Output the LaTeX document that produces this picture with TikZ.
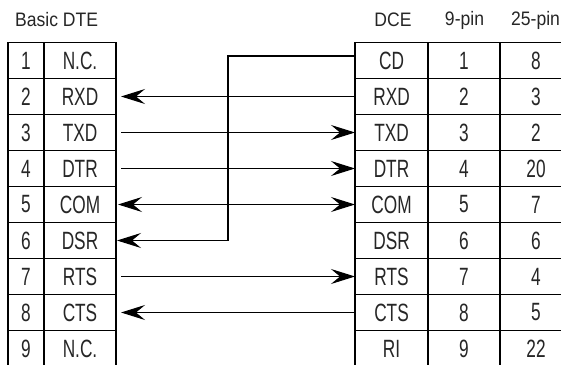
\documentclass[tikz,border=0pt]{standalone}
\usepackage{fontspec}
\setmainfont{Liberation Sans}[FakeStretch=0.69]
\newfontfamily\hdrfont{Liberation Sans}[FakeStretch=0.9]
\usetikzlibrary{arrows.meta}
\begin{document}
\begin{tikzpicture}[x=1pt,y=-1pt,
  cell/.style={minimum height=36pt, inner sep=0pt, outer sep=0pt,
    anchor=north west, font=\fontsize{25}{25}\selectfont, text=black!85},
  grid/.style={line width=1.6pt, draw=black, line cap=rect},
  hdr/.style={inner sep=0pt, font=\hdrfont\fontsize{19.5}{19.5}\selectfont, text=black!85},
  conn/.style={line width=1.1pt, draw=black},
  tip/.tip={Stealth[length=24pt,width=15pt,inset=9pt]}]
\useasboundingbox (0,0) rectangle (561,364);
\clip (0,0) rectangle (561,364);
\coordinate (br) at (561,364);
\node[hdr, anchor=west] (hdte) at (15,20) {Basic DTE};
\node[hdr] (hdce) at (393,20) {DCE};
\node[hdr] (h9) at (464.5,20) {9-pin};
\node[hdr, anchor=west] (h25) at (511,20) {25-pin};
\foreach \i/\n/\a/\b/\c in {1/N.C./CD/1/8, 2/RXD/RXD/2/3, 3/TXD/TXD/3/2, 4/DTR/DTR/4/20,
  5/COM/COM/5/7, 6/DSR/DSR/6/6, 7/RTS/RTS/7/4, 8/CTS/CTS/8/5, 9/N.C./RI/9/22} {
  \pgfmathsetmacro{\yy}{42.5+36*(\i-1)}
  \node[cell, minimum width=36pt] (N\i) at (8,\yy) {\i};
  \node[cell, minimum width=72pt] (L\i) at (44,\yy) {\n};
  \node[cell, minimum width=73pt] (R\i) at (355,\yy) {\a};
  \node[cell, minimum width=72pt] (P\i) at (428,\yy) {\b};
  \node[cell, minimum width=72pt] (Q\i) at (500,\yy) {\c};
}
% table rules
\foreach \i in {1,...,9} {
  \draw[grid] (N\i.north west) -- (L\i.north east);
  \draw[grid] (R\i.north west) -- (R\i.north west -| br);
}
\foreach \c in {N1.north west, N1.north east, L1.north east, R1.north west, P1.north west, Q1.north west}
  \draw[grid] (\c) -- (\c |- br);
% connectors
\draw[conn, -tip] (R2.west) -- ([xshift=5pt]L2.east);
\draw[conn, -tip] ([xshift=5pt]L3.east) -- (R3.west);
\draw[conn, -tip] ([xshift=5pt]L4.east) -- (R4.west);
\draw[conn, tip-tip] ([xshift=2pt]L5.east) -- (R5.west);
\draw[conn, -tip] ([xshift=5pt]L7.east) -- (R7.west);
\draw[conn, -tip] (R8.west) -- ([xshift=5pt]L8.east);
\coordinate (jog) at (228,56);
\draw[conn, -tip] (jog -| R1.west) -- (jog) |- ([xshift=1pt]L6.east);
\end{tikzpicture}
\end{document}
